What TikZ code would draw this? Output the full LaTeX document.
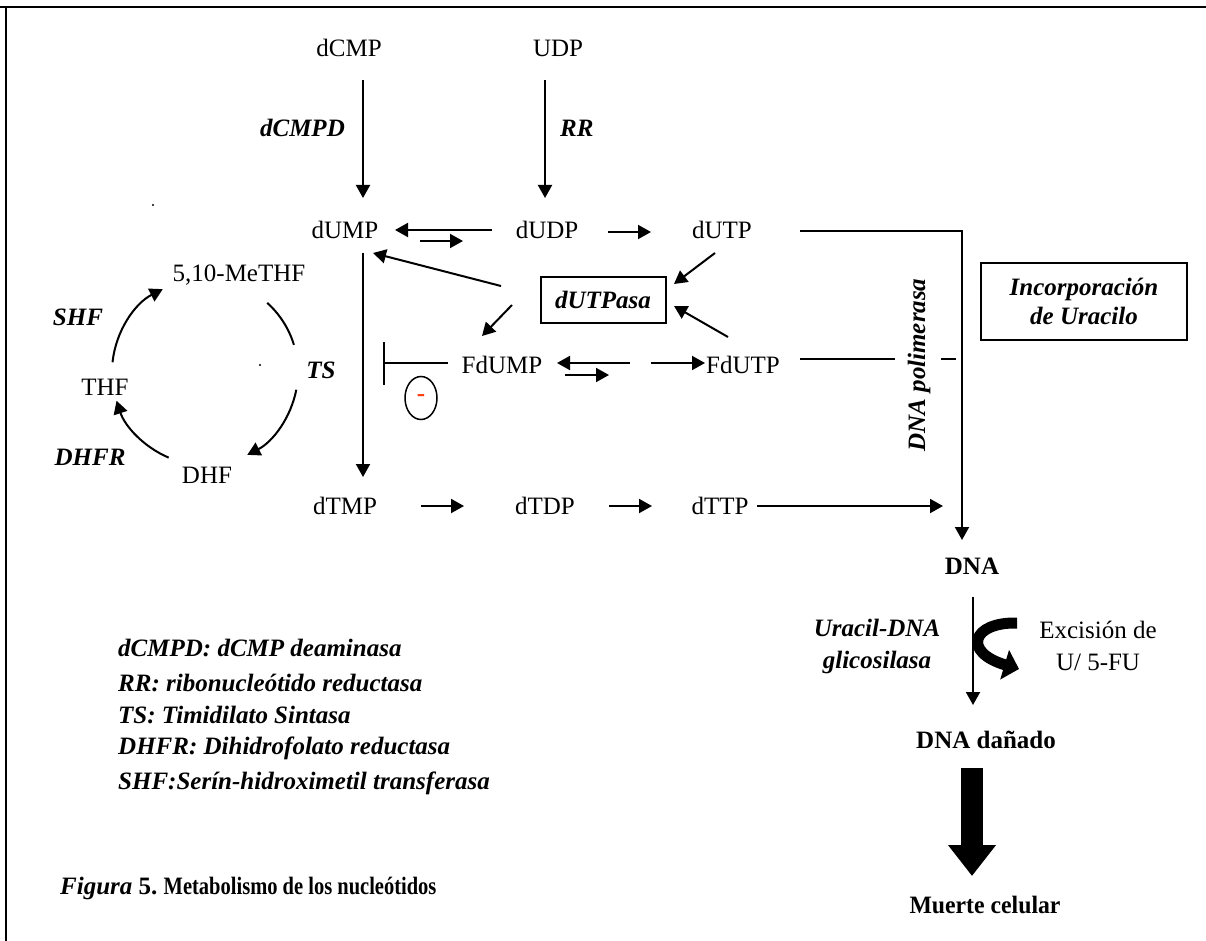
\documentclass[tikz,border=0pt]{standalone}
\usepackage{fontspec}
\setmainfont{Liberation Serif}
\usetikzlibrary{arrows.meta,calc,shapes.geometric}
\definecolor{minusred}{RGB}{255,60,10}
\begin{document}
\begin{tikzpicture}[x=1pt,y=-1pt,
  txt/.style={inner sep=0pt,font=\fontsize{25}{29}\selectfont},
  enz/.style={inner sep=0pt,font=\fontsize{25}{29}\selectfont\bfseries\itshape},
  bld/.style={inner sep=0pt,font=\fontsize{25}{29}\selectfont\bfseries},
  arr/.style={line width=2pt,-{Triangle[length=13pt,width=14pt]}},
  ln/.style={line width=2pt},
  boxed/.style={draw,line width=2pt,inner sep=0pt}]
\useasboundingbox (0,0) rectangle (1206,941);
% partial frame
\draw[line width=2.5pt] (0,7) -- (1206,7);
\draw[line width=2.5pt] (6,7) -- (6,941);
% stray dots
\fill (153,205) circle (1.2);
\fill (260,365) circle (1.2);
% nodes
\node[txt] (dCMP) at (349,48) {dCMP};
\node[txt] (UDP) at (558,48) {UDP};
\node[enz,anchor=east] (dCMPD) at (345,128) {dCMPD};
\node[enz,anchor=west] (RR) at (560,128) {RR};
\node[txt] (dUMP) at (345,230) {dUMP};
\node[txt] (dUDP) at (547,230) {dUDP};
\node[txt] (dUTP) at (722,230) {dUTP};
\node[txt] (MeTHF) at (239,275) {5,10-MeTHF};
\node[txt] (THF) at (105,387) {THF};
\node[txt] (DHF) at (207,475) {DHF};
\node[enz] (SHF) at (78,317) {SHF};
\node[enz] (DHFR) at (90,457) {DHFR};
\node[enz] (TS) at (321,370) {TS};
\node[txt] (FdUMP) at (502,365) {FdUMP};
\node[txt] (FdUTP) at (743,365) {FdUTP};
\node[boxed,enz,minimum width=125pt,minimum height=46pt] (dUTPasa) at (603,300) {dUTPasa};
\node[boxed,inner sep=0pt,font=\fontsize{25}{29}\selectfont\bfseries\itshape,align=center,minimum width=206pt,minimum height=77pt] (inc) at (1084,301) {Incorporación\\de Uracilo};
\node[enz,rotate=90] (pol) at (919,365) {DNA polimerasa};
\node[draw,ellipse,line width=1.5pt,inner sep=0pt,minimum width=32pt,minimum height=43pt,font=\fontsize{25}{29}\selectfont\bfseries] (minus) at (421,398) {\textcolor{minusred}{-}};
\node[txt] (dTMP) at (345,506) {dTMP};
\node[txt] (dTDP) at (545,506) {dTDP};
\node[txt] (dTTP) at (720,506) {dTTP};
\node[bld] (DNA) at (972,566) {DNA};
\node[inner sep=0pt,font=\fontsize{25}{32}\selectfont\bfseries\itshape,align=center] (udg) at (877,646) {Uracil-DNA\\glicosilasa};
\node[inner sep=0pt,font=\fontsize{25}{32}\selectfont,align=center] (exc) at (1098,646) {Excisión de\\U/ 5-FU};
\node[bld] (dan) at (986,740) {DNA dañado};
\node[bld] (muerte) at (985,905) {\scalebox{0.95}[1]{Muerte celular}};
% legend
\node[enz,anchor=west] (l1) at (118,648) {dCMPD: dCMP deaminasa};
\node[enz,anchor=west] (l2) at (118,683) {RR: ribonucleótido reductasa};
\node[enz,anchor=west] (l3) at (118,715) {TS: Timidilato Sintasa};
\node[enz,anchor=west] (l4) at (118,748) {DHFR: Dihidrofolato reductasa};
\node[enz,anchor=west] (l5) at (118,783) {SHF:Serín-hidroximetil transferasa};
\node[bld,anchor=west] (cap) at (60,888) {\textit{Figura} 5.\ \scalebox{0.82}[1]{Metabolismo de los nucleótidos}};
% vertical arrows top
\draw[arr] ($(dCMP)+(14,32)$) -- ($(dUMP)+(18,-32)$);
\draw[arr] ($(UDP)+(-13,32)$) -- ($(dUDP)+(-2,-32)$);
% dUMP <-> dUDP
\draw[arr] ($(dUDP)+(-55,0)$) -- ($(dUMP)+(50,0)$);
\draw[arr] ($(dUMP)+(75,11)$) -- ($(dUDP)+(-84,11)$);
\draw[arr] ($(dUDP)+(61,2)$) -- ($(dUTP)+(-71,2)$);
% dUTP to DNA
\draw[arr] ($(dUTP)+(78,1)$) -| ($(DNA)+(-10,-26)$);
% dUMP -> dTMP
\draw[arr] ($(dUMP)+(18,23)$) -- ($(dTMP)+(18,-29)$);
% dT row
\draw[arr] ($(dTMP)+(76,0)$) -- ($(dTDP)+(-81,0)$);
\draw[arr] ($(dTDP)+(64,0)$) -- ($(dTTP)+(-68,0)$);
\draw[arr] ($(dTTP)+(37,0)$) -- ($(DNA)+(-29,-60)$);
% DNA -> damaged
\draw[arr] ($(DNA)+(1,31)$) -- ($(dan)+(-13,-35)$);
% dUTPasa connections
\draw[arr] ($(dUTP)+(-7,23)$) -- ($(dUTPasa.east)+(7.5,-16)$);
\draw[arr] ($(FdUTP)+(-15,-28)$) -- ($(dUTPasa.east)+(7.5,6)$);
\draw[arr] ($(dUTPasa.west)+(-38.5,-14)$) -- ($(dUMP)+(28,23)$);
\draw[arr] ($(dUTPasa.west)+(-27.5,5)$) -- ($(FdUMP)+(-20,-29)$);
% FdUMP <-> / -> FdUTP
\draw[arr] ($(FdUTP)+(-113,-2)$) -- ($(FdUMP)+(55,-2)$);
\draw[arr] ($(FdUMP)+(63,10)$) -- ($(FdUTP)+(-134,10)$);
\draw[arr] ($(FdUMP)+(149,-2)$) -- ($(FdUTP)+(-38,-2)$);
% inhibition
\draw[ln,-{Bar[width=43pt]}] ($(FdUMP)+(-54,-2)$) -- ($(TS)+(62,-7)$);
% FdUTP line to polymerase
\draw[ln] ($(FdUTP)+(57,-6)$) -- ($(FdUTP)+(152,-6)$);
\draw[ln] ($(FdUTP)+(198,-6)$) -- ($(FdUTP)+(213,-6)$);
% folate cycle
\draw[ln] (205,372) ++(-48:93) arc[start angle=-48,end angle=-17,radius=93];
\draw[arr] (205,372) ++(11:93) arc[start angle=11,end angle=63,radius=93];
\draw[arr] (205,372) ++(113:93) arc[start angle=113,end angle=162,radius=93];
\draw[arr] (205,372) ++(-174:93) arc[start angle=-174,end angle=-117,radius=93];
% excision curved arrow
\draw[line width=11pt,-{Triangle[length=15pt,width=30pt]}] ($(DNA)+(45,57)$) .. controls (972,622) and (962,652) .. ($(DNA)+(47,103)$);
% thick arrow to cell death
\draw[line width=22pt,-{Triangle[length=31pt,width=46pt]}] ($(dan)+(-14,28)$) -- ($(muerte)+(-13,-29)$);
\end{tikzpicture}
\end{document}
